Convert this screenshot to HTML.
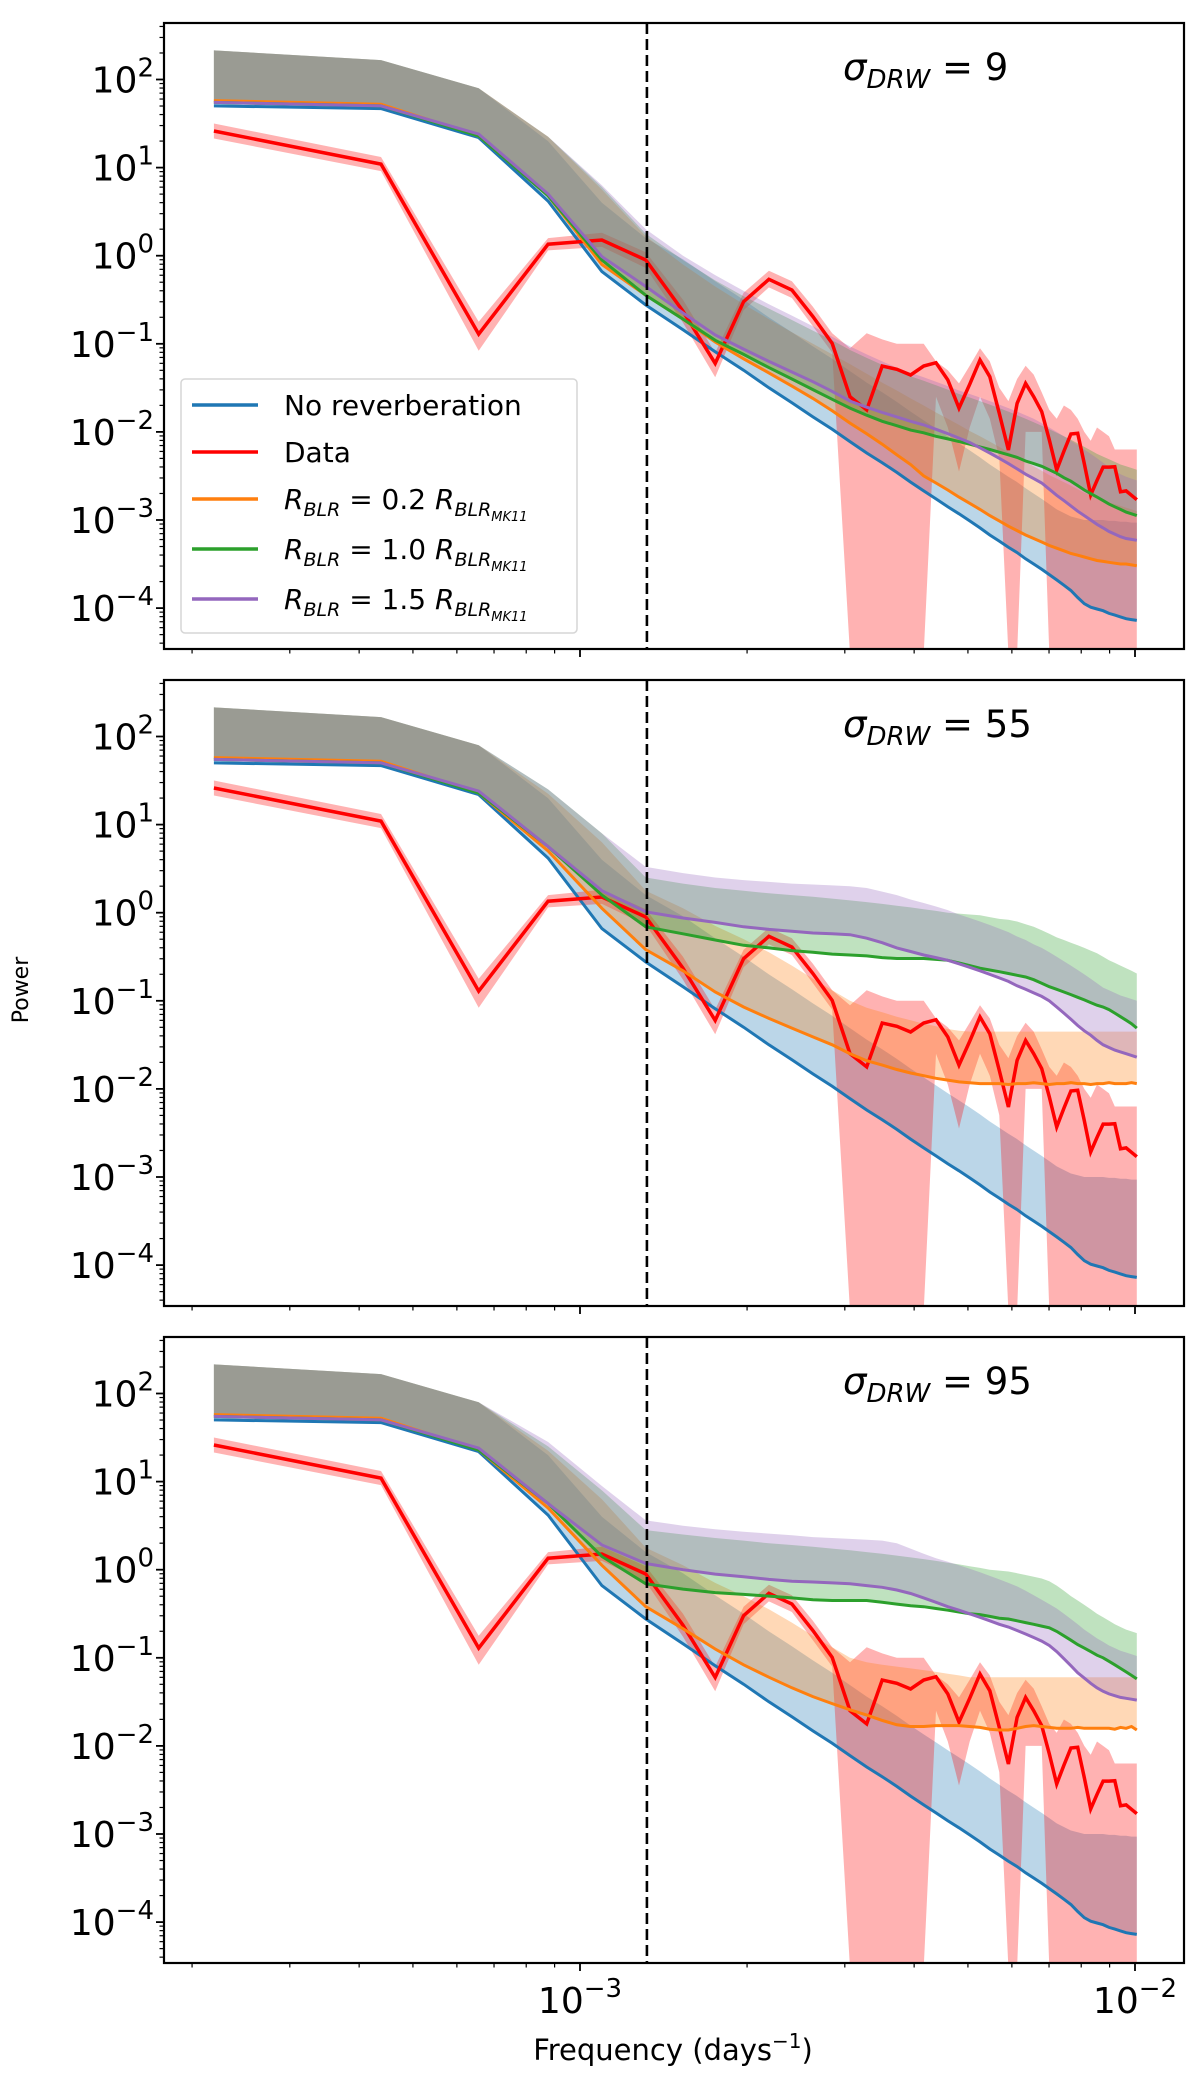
<!DOCTYPE html>
<html><head><meta charset="utf-8"><title>Power spectra</title>
<style>html,body{margin:0;padding:0;background:#fff;}svg{display:block;}text{font-family:"DejaVu Sans","Liberation Sans",sans-serif;fill:#000;}</style>
</head><body>
<svg id="chart" xmlns="http://www.w3.org/2000/svg" width="1200" height="2093" viewBox="0 0 1200 2093"></svg>
<script>
// ---- data (log10 power) ----
const freqStep = 2.19e-4;
const nPts = 46;
const panelTitles = ["9", "55", "95"];
const xTickLabels = ["-3", "-2"];
const yTickExps = [2, 1, 0, -1, -2, -3, -4];
const dashedFreq = 1.32e-3;

const blueMed = [1.70,1.67,1.34,0.62,-0.18,-0.56,-0.84,-1.09,-1.30,-1.50,-1.67,-1.83,-1.97,-2.11,-2.24,-2.35,-2.46,-2.57,-2.67,-2.76,-2.85,-2.93,-3.01,-3.09,-3.17,-3.24,-3.31,-3.37,-3.44,-3.50,-3.56,-3.62,-3.68,-3.74,-3.80,-3.88,-3.95,-3.99,-4.01,-4.03,-4.06,-4.08,-4.10,-4.12,-4.13,-4.14];
const blueUp = [2.33,2.22,1.9,1.3,0.6,0.2,-0.04,-0.29,-0.50,-0.70,-0.87,-1.03,-1.17,-1.31,-1.44,-1.55,-1.66,-1.77,-1.87,-1.96,-2.05,-2.13,-2.21,-2.29,-2.37,-2.44,-2.51,-2.57,-2.64,-2.70,-2.76,-2.82,-2.88,-2.92,-2.96,-2.98,-3.0,-3.0,-3.0,-3.0,-3.01,-3.01,-3.02,-3.02,-3.03,-3.03];

const redData = [1.415,1.04,-0.89,0.13,0.178,-0.049,-0.63,-1.222,-0.522,-0.268,-0.389,-0.69,-0.995,-1.60,-1.75,-1.252,-1.29,-1.354,-1.252,-1.214,-1.41,-1.73,-1.46,-1.184,-1.373,-1.79,-2.205,-1.676,-1.449,-1.60,-1.77,-2.09,-2.432,-2.22,-2.024,-2.016,-2.36,-2.716,-2.55,-2.40,-2.40,-2.395,-2.68,-2.67,-2.72,-2.77];
const redHi = [1.5,1.12,-0.75,0.2,0.26,0.04,-0.5,-1.1,-0.42,-0.17,-0.29,-0.58,-0.88,-1.05,-0.88,-0.95,-1.0,-1.0,-1.0,-1.2,-1.3,-1.45,-1.25,-1.05,-1.2,-1.5,-1.65,-1.4,-1.25,-1.35,-1.55,-1.75,-1.85,-1.7,-1.75,-1.85,-2.0,-2.1,-1.95,-2.0,-2.05,-2.2,-2.2,-2.2,-2.2,-2.2];
const redLo = [1.33,0.96,-1.08,0.06,0.1,-0.14,-0.76,-1.38,-0.62,-0.36,-0.48,-0.8,-1.1,null,null,null,null,null,null,-1.6,-1.95,-2.45,-1.95,-1.6,-1.85,-2.3,null,null,-2.0,-2.0,-2.0,null,null,null,null,null,null,null,null,null,null,null,null,null,null,null];

// panel 1 (sigma 9)
const orangeMed1 = [1.76,1.72,1.36,0.68,-0.1,-0.45,-0.72,-0.98,-1.17,-1.33,-1.48,-1.62,-1.76,-1.9,-2.02,-2.14,-2.26,-2.37,-2.5,-2.58,-2.66,-2.74,-2.81,-2.88,-2.95,-3.01,-3.07,-3.12,-3.17,-3.21,-3.25,-3.29,-3.32,-3.35,-3.38,-3.4,-3.42,-3.44,-3.46,-3.47,-3.48,-3.49,-3.5,-3.5,-3.51,-3.52];
const orangeUp1 = [2.33,2.22,1.9,1.35,0.75,0.22,-0.1,-0.35,-0.55,-0.72,-0.87,-1.0,-1.12,-1.23,-1.34,-1.44,-1.53,-1.62,-1.7,-1.78,-1.85,-1.92,-1.99,-2.05,-2.11,-2.17,-2.23,-2.29,-2.34,-2.39,-2.44,-2.49,-2.53,-2.57,-2.61,-2.65,-2.69,-2.72,-2.75,-2.78,-2.8,-2.82,-2.84,-2.86,-2.88,-2.9];
const greenMed1 = [1.74,1.70,1.36,0.68,-0.05,-0.45,-0.72,-0.96,-1.12,-1.27,-1.40,-1.52,-1.63,-1.73,-1.81,-1.88,-1.93,-1.98,-2.01,-2.05,-2.08,-2.11,-2.14,-2.17,-2.2,-2.23,-2.26,-2.29,-2.33,-2.36,-2.39,-2.43,-2.47,-2.52,-2.56,-2.61,-2.66,-2.70,-2.74,-2.78,-2.82,-2.85,-2.88,-2.91,-2.93,-2.95];
const greenUp1 = [2.33,2.22,1.9,1.35,0.78,0.25,-0.05,-0.28,-0.46,-0.6,-0.73,-0.85,-0.96,-1.07,-1.16,-1.24,-1.31,-1.37,-1.42,-1.47,-1.52,-1.57,-1.61,-1.65,-1.69,-1.73,-1.77,-1.81,-1.85,-1.89,-1.93,-1.97,-2.01,-2.05,-2.09,-2.13,-2.17,-2.21,-2.25,-2.28,-2.31,-2.34,-2.37,-2.39,-2.41,-2.43];
const purpleMed1 = [1.74,1.70,1.38,0.7,-0.01,-0.35,-0.65,-0.9,-1.06,-1.2,-1.32,-1.43,-1.54,-1.65,-1.72,-1.78,-1.83,-1.88,-1.92,-1.97,-2.02,-2.07,-2.12,-2.18,-2.24,-2.30,-2.36,-2.42,-2.48,-2.53,-2.58,-2.65,-2.72,-2.78,-2.84,-2.9,-2.95,-3.0,-3.05,-3.09,-3.13,-3.16,-3.19,-3.21,-3.22,-3.23];
const purpleUp1 = [2.33,2.22,1.9,1.35,0.8,0.3,0.0,-0.22,-0.4,-0.55,-0.68,-0.8,-0.92,-1.03,-1.12,-1.2,-1.27,-1.33,-1.38,-1.43,-1.48,-1.53,-1.57,-1.61,-1.65,-1.69,-1.73,-1.77,-1.81,-1.85,-1.9,-1.95,-2.0,-2.05,-2.1,-2.15,-2.2,-2.25,-2.3,-2.35,-2.4,-2.44,-2.48,-2.51,-2.53,-2.55];

// panel 2 (sigma 55)
const orangeMed2 = [1.76,1.72,1.36,0.7,0.05,-0.42,-0.66,-0.9,-1.07,-1.2,-1.31,-1.41,-1.5,-1.6,-1.68,-1.73,-1.78,-1.82,-1.85,-1.88,-1.9,-1.92,-1.93,-1.94,-1.94,-1.94,-1.95,-1.94,-1.94,-1.93,-1.94,-1.95,-1.94,-1.94,-1.93,-1.94,-1.94,-1.95,-1.94,-1.94,-1.93,-1.94,-1.94,-1.94,-1.93,-1.94];
const orangeUp2 = [2.33,2.22,1.9,1.35,0.8,0.25,0.05,-0.15,-0.3,-0.45,-0.6,-0.75,-0.88,-1.0,-1.08,-1.13,-1.18,-1.22,-1.26,-1.29,-1.32,-1.34,-1.35,-1.35,-1.35,-1.35,-1.35,-1.35,-1.35,-1.35,-1.35,-1.35,-1.35,-1.35,-1.35,-1.35,-1.35,-1.35,-1.35,-1.35,-1.35,-1.35,-1.35,-1.35,-1.35,-1.35];
const greenMed2 = [1.74,1.70,1.36,0.75,0.2,-0.16,-0.24,-0.31,-0.37,-0.40,-0.43,-0.45,-0.47,-0.48,-0.49,-0.51,-0.52,-0.52,-0.52,-0.53,-0.54,-0.57,-0.6,-0.63,-0.65,-0.67,-0.69,-0.71,-0.73,-0.76,-0.80,-0.84,-0.87,-0.90,-0.93,-0.96,-0.99,-1.02,-1.05,-1.07,-1.10,-1.14,-1.18,-1.22,-1.26,-1.31];
const greenUp2 = [2.33,2.22,1.9,1.4,0.9,0.4,0.33,0.28,0.25,0.22,0.2,0.18,0.16,0.14,0.12,0.1,0.08,0.06,0.04,0.02,0.0,-0.01,-0.02,-0.03,-0.05,-0.07,-0.08,-0.1,-0.13,-0.16,-0.2,-0.24,-0.28,-0.31,-0.34,-0.37,-0.4,-0.43,-0.46,-0.5,-0.54,-0.57,-0.6,-0.63,-0.66,-0.69];
const purpleMed2 = [1.74,1.70,1.38,0.75,0.25,0.01,-0.06,-0.11,-0.16,-0.19,-0.21,-0.23,-0.24,-0.25,-0.29,-0.34,-0.40,-0.44,-0.48,-0.51,-0.54,-0.58,-0.62,-0.66,-0.7,-0.74,-0.78,-0.83,-0.87,-0.91,-0.95,-1.0,-1.07,-1.14,-1.21,-1.28,-1.34,-1.39,-1.45,-1.5,-1.53,-1.56,-1.58,-1.6,-1.62,-1.64];
const purpleUp2 = [2.33,2.22,1.9,1.4,0.9,0.52,0.45,0.40,0.37,0.35,0.33,0.32,0.31,0.3,0.28,0.24,0.2,0.15,0.11,0.07,0.03,-0.02,-0.06,-0.1,-0.14,-0.18,-0.22,-0.27,-0.31,-0.36,-0.4,-0.45,-0.5,-0.55,-0.6,-0.65,-0.7,-0.75,-0.8,-0.85,-0.88,-0.91,-0.94,-0.96,-0.98,-1.0];

// panel 3 (sigma 95)
const orangeMed3 = [1.76,1.72,1.36,0.7,0.05,-0.42,-0.67,-0.9,-1.08,-1.22,-1.34,-1.44,-1.52,-1.59,-1.65,-1.71,-1.76,-1.78,-1.78,-1.77,-1.77,-1.77,-1.78,-1.79,-1.81,-1.82,-1.82,-1.8,-1.78,-1.77,-1.78,-1.79,-1.8,-1.8,-1.8,-1.79,-1.8,-1.8,-1.8,-1.8,-1.8,-1.81,-1.79,-1.8,-1.78,-1.82];
const orangeUp3 = [2.33,2.22,1.9,1.35,0.8,0.25,0.05,-0.15,-0.3,-0.45,-0.6,-0.75,-0.88,-1.0,-1.05,-1.08,-1.1,-1.12,-1.14,-1.16,-1.18,-1.2,-1.22,-1.22,-1.22,-1.22,-1.22,-1.22,-1.22,-1.22,-1.22,-1.22,-1.22,-1.22,-1.22,-1.22,-1.22,-1.22,-1.22,-1.22,-1.22,-1.22,-1.22,-1.22,-1.22,-1.22];
const greenMed3 = [1.74,1.70,1.36,0.75,0.15,-0.16,-0.22,-0.26,-0.28,-0.3,-0.32,-0.34,-0.35,-0.35,-0.35,-0.37,-0.39,-0.41,-0.42,-0.44,-0.46,-0.48,-0.5,-0.51,-0.53,-0.55,-0.56,-0.58,-0.6,-0.62,-0.64,-0.66,-0.7,-0.75,-0.8,-0.85,-0.89,-0.93,-0.97,-1.0,-1.04,-1.08,-1.12,-1.16,-1.2,-1.24];
const greenUp3 = [2.33,2.22,1.9,1.4,0.9,0.45,0.4,0.36,0.33,0.3,0.28,0.26,0.24,0.22,0.2,0.18,0.16,0.14,0.12,0.1,0.08,0.06,0.04,0.02,0.0,-0.01,-0.02,-0.04,-0.06,-0.08,-0.1,-0.13,-0.18,-0.24,-0.3,-0.35,-0.4,-0.45,-0.5,-0.54,-0.58,-0.62,-0.65,-0.68,-0.7,-0.72];
const purpleMed3 = [1.74,1.70,1.38,0.75,0.28,0.07,0.0,-0.05,-0.08,-0.11,-0.13,-0.14,-0.15,-0.16,-0.18,-0.2,-0.23,-0.27,-0.32,-0.37,-0.42,-0.46,-0.5,-0.54,-0.58,-0.62,-0.65,-0.69,-0.73,-0.77,-0.81,-0.86,-0.93,-1.01,-1.09,-1.17,-1.23,-1.29,-1.34,-1.38,-1.41,-1.43,-1.45,-1.46,-1.47,-1.48];
const purpleUp3 = [2.33,2.22,1.9,1.45,0.95,0.56,0.5,0.46,0.43,0.41,0.39,0.37,0.36,0.35,0.34,0.33,0.3,0.24,0.18,0.13,0.09,0.05,0.01,-0.03,-0.07,-0.11,-0.15,-0.19,-0.24,-0.29,-0.34,-0.39,-0.44,-0.5,-0.56,-0.62,-0.68,-0.73,-0.78,-0.82,-0.86,-0.89,-0.92,-0.94,-0.96,-0.98];

const freqs = [];
for (let k = 1; k <= nPts; k++) freqs.push(k * freqStep);

// ---- layout ----
const NS = "http://www.w3.org/2000/svg";
const svg = document.getElementById("chart");
const L = 164, R = 1184, PH = 626, PSTEP = 657, TOP0 = 23;
const X0 = 580, XDEC = 555;
const Y2OFF = 56.5, YDEC = 88.1;
const C = {blue:"#1f77b4", orange:"#ff7f0e", green:"#2ca02c", purple:"#9467bd", red:"#ff0000"};
function xs(f){ return X0 + XDEC*(Math.log10(f)+3); }
function ysFor(top){ return function(lp){ return top + Y2OFF + (2-lp)*YDEC; }; }
function mk(tag, attrs, parent){ const e=document.createElementNS(NS,tag); for(const k in attrs) e.setAttribute(k,attrs[k]); (parent||svg).appendChild(e); return e; }

const panels = [
  {orange:[orangeMed1,orangeUp1], green:[greenMed1,greenUp1], purple:[purpleMed1,purpleUp1]},
  {orange:[orangeMed2,orangeUp2], green:[greenMed2,greenUp2], purple:[purpleMed2,purpleUp2]},
  {orange:[orangeMed3,orangeUp3], green:[greenMed3,greenUp3], purple:[purpleMed3,purpleUp3]}
];

function bandPath(lo, hi, ys, bottom){
  const n = Math.min(freqs.length, lo.length, hi.length);
  let d = "";
  for (let i=0;i<n;i++){ d += (i?"L":"M") + xs(freqs[i]).toFixed(1)+","+ys(hi[i]).toFixed(1); }
  for (let i=n-1;i>=0;i--){ const v = lo[i]; const y = (v===null)? bottom+5 : ys(v); d += "L"+xs(freqs[i]).toFixed(1)+","+y.toFixed(1); }
  return d+"Z";
}
function linePath(vals, ys){
  const n = Math.min(freqs.length, vals.length);
  let d=""; for(let i=0;i<n;i++){ d += (i?"L":"M")+xs(freqs[i]).toFixed(1)+","+ys(vals[i]).toFixed(1); } return d;
}
function powLabel(parent, x, y, exp, anchor, name){
  const t = mk("text",{x:x,y:y,"font-size":"36","text-anchor":anchor},parent);
  
  
  const a = mk("tspan",{},t); a.textContent="10";
  const b = mk("tspan",{dy:"-16","font-size":"26"},t); b.textContent = (""+exp).replace("-","\u2212");
  return t;
}

const defs = mk("defs",{});
panels.forEach(function(p, pi){
  const top = TOP0 + pi*PSTEP, bottom = top+PH;
  const ys = ysFor(top);
  const g = mk("g",{});
  
  
  const cp = mk("clipPath",{id:"clip"+pi},defs);
  mk("rect",{x:L,y:top,width:R-L,height:PH},cp);
  const plot = mk("g",{"clip-path":"url(#clip"+pi+")"},g);

  const bb = mk("path",{d:bandPath(blueMed,blueUp,ys,bottom),fill:C.blue,"fill-opacity":"0.3"},plot);
  
  
  const rb = mk("path",{d:bandPath(redLo,redHi,ys,bottom),fill:C.red,"fill-opacity":"0.3"},plot);
  
  
  ["orange","green","purple"].forEach(function(c){
    const b = mk("path",{d:bandPath(p[c][0],p[c][1],ys,bottom),fill:C[c],"fill-opacity":"0.3"},plot);
    
    
  });
  const bl = mk("path",{d:linePath(blueMed,ys),fill:"none",stroke:C.blue,"stroke-width":"3"},plot);
  
  
  const rl = mk("path",{d:linePath(redData,ys),fill:"none",stroke:C.red,"stroke-width":"3.5"},plot);
  
  
  ["orange","green","purple"].forEach(function(c){
    const l = mk("path",{d:linePath(p[c][0],ys),fill:"none",stroke:C[c],"stroke-width":"3"},plot);
    
    
  });
  const dl = mk("line",{x1:xs(dashedFreq),x2:xs(dashedFreq),y1:top,y2:bottom,stroke:"#000","stroke-width":"2.6","stroke-dasharray":"11,5"},g);
  
  

  const fr = mk("rect",{x:L,y:top,width:R-L,height:PH,fill:"none",stroke:"#000","stroke-width":"2.2"},g);
  
  

  for (let e=-5;e<=2;e++){
    for (let m=1;m<=9;m++){
      const y = ys(e+Math.log10(m));
      if (y<top||y>bottom) continue;
      mk("line",{x1:L,x2:L-(m===1?8:4.5),y1:y,y2:y,stroke:"#000","stroke-width":m===1?"1.8":"1.2"},g);
    }
  }
  yTickExps.forEach(function(e){ powLabel(g, 154, ys(e)+13, e, "end", "y-tick-label"); });

  for (let e=-4;e<=-2;e++){
    for (let m=1;m<=9;m++){
      const f = m*Math.pow(10,e), x = xs(f);
      if (x<L||x>R) continue;
      mk("line",{x1:x,x2:x,y1:bottom,y2:bottom+(m===1?8:4.5),stroke:"#000","stroke-width":m===1?"1.8":"1.2"},g);
    }
  }
  const tt = mk("text",{x:843,y:top+57,"font-size":"37"},g);
  
  
  const s1 = mk("tspan",{"font-style":"italic"},tt); s1.textContent="\u03c3";
  const s2 = mk("tspan",{"font-style":"italic","font-size":"26",dy:"8"},tt); s2.textContent="DRW";
  const s3 = mk("tspan",{dy:"-8"},tt); s3.textContent=" = "+panelTitles[pi];
});

const bottomY = TOP0+2*PSTEP+PH;
powLabel(svg, xs(1e-3), 2013, xTickLabels[0], "middle", "x-tick-label");
powLabel(svg, xs(1e-2), 2013, xTickLabels[1], "middle", "x-tick-label");

const xl = mk("text",{x:673,y:2060,"font-size":"29","text-anchor":"middle"});


const xa = mk("tspan",{},xl); xa.textContent="Frequency (days";
const xb = mk("tspan",{dy:"-12","font-size":"20"},xl); xb.textContent="\u22121";
const xc = mk("tspan",{dy:"12"},xl); xc.textContent=")";
const yl = mk("text",{x:0,y:0,"font-size":"22","text-anchor":"middle",transform:"translate(28,990) rotate(-90)"});


yl.textContent="Power";

const lg = mk("g",{});


mk("rect",{x:181,y:379,width:396,height:254,rx:4,fill:"#fff","fill-opacity":"0.85",stroke:"#d6d6d6","stroke-width":"1.5"},lg);
const legendRows = [
  {c:C.blue, t:"No reverberation"},
  {c:C.red, t:"Data"},
  {c:C.orange, v:"0.2"},
  {c:C.green, v:"1.0"},
  {c:C.purple, v:"1.5"}
];
const legendY = [405,452,499,549,599];
legendRows.forEach(function(r,i){
  const y = legendY[i];
  const row = mk("g",{},lg);
  
  
  mk("line",{x1:192,x2:258,y1:y,y2:y,stroke:r.c,"stroke-width":"3.5"},row);
  const t = mk("text",{x:284,y:y+10,"font-size":"28"},row);
  if (r.t){ t.textContent = r.t; }
  else {
    const a = mk("tspan",{"font-style":"italic"},t); a.textContent="R";
    const b = mk("tspan",{"font-style":"italic","font-size":"19",dy:"7"},t); b.textContent="BLR";
    const c = mk("tspan",{dy:"-7"},t); c.textContent=" = "+r.v+" ";
    const d = mk("tspan",{"font-style":"italic"},t); d.textContent="R";
    const e = mk("tspan",{"font-style":"italic","font-size":"19",dy:"7"},t); e.textContent="BLR";
    const f = mk("tspan",{"font-style":"italic","font-size":"13",dy:"5"},t); f.textContent="MK11";
  }
});
</script>
</body></html>
